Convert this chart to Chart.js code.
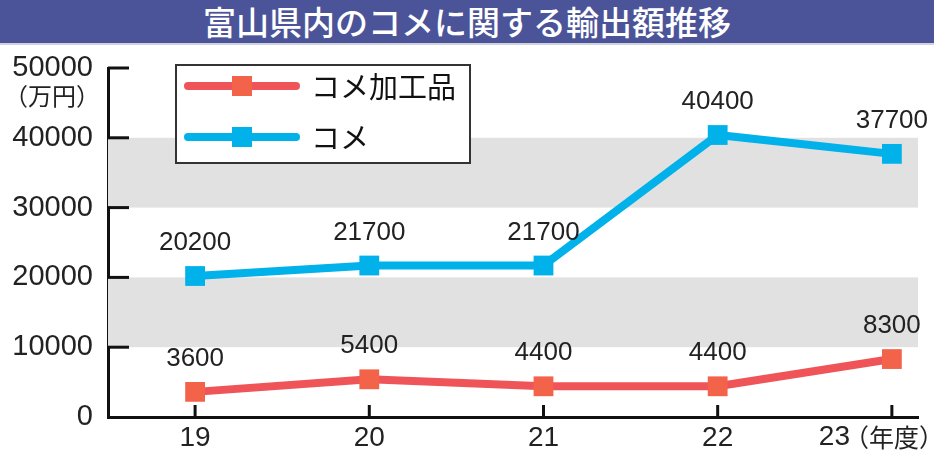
<!DOCTYPE html>
<html>
<head>
<meta charset="utf-8">
<script src="https://cdn.jsdelivr.net/npm/chart.js@4"></script>
<style>
  body { margin: 0; background: #fff; }
  #wrap { position: relative; width: 934px; height: 453px; overflow: hidden; }
  #title {
    position: absolute; left: 0; top: 0; width: 934px; height: 43px;
    background: #4b5499; color: #fff; text-align: center;
    font: 500 33px "Noto Sans CJK JP"; line-height: 43px;
    border-bottom: 2px solid #d0d2de;
  }
  canvas { position: absolute; left: 0; top: 0; }
</style>
</head>
<body>
<div id="wrap">
  <canvas id="chart" width="934" height="453"></canvas>
  <div id="title">富山県内のコメに関する輸出額推移</div>
</div>
<script>
const years = [19, 20, 21, 22, 23];
const rice = [20200, 21700, 21700, 40400, 37700];
const ricePro = [3600, 5400, 4400, 4400, 8300];
const yTicks = [0, 10000, 20000, 30000, 40000, 50000];
const bands = [[30000, 40000], [10000, 20000]];

const blue = '#00b1ea';
const red = '#ef5558';
const redMark = '#f2634a';
const num = '"Liberation Sans", Arial, sans-serif';
const jp = '"Noto Sans CJK JP", sans-serif';

const decor = {
  id: 'decor',
  beforeDatasetsDraw(chart) {
    const { ctx, chartArea: a, scales: { y } } = chart;
    ctx.save();
    ctx.fillStyle = '#e1e1e1';
    bands.forEach(b => {
      const t = y.getPixelForValue(b[1]), bt = y.getPixelForValue(b[0]);
      ctx.fillRect(a.left, t, a.right - a.left, bt - t);
    });
    ctx.restore();
  },
  afterDatasetsDraw(chart) {
    const { ctx, chartArea: a, scales: { x, y } } = chart;
    ctx.save();
    // inside tick marks
    ctx.strokeStyle = '#111';
    ctx.lineWidth = 3;
    yTicks.slice(1).forEach(v => {
      const py = y.getPixelForValue(v);
      ctx.beginPath(); ctx.moveTo(a.left, py); ctx.lineTo(a.left + 21, py); ctx.stroke();
    });
    years.forEach(v => {
      const px = x.getPixelForValue(v);
      ctx.beginPath(); ctx.moveTo(px, a.bottom); ctx.lineTo(px, a.bottom - 12); ctx.stroke();
    });
    // value labels
    ctx.fillStyle = '#222';
    ctx.font = '26px ' + num;
    ctx.textAlign = 'center';
    ctx.textBaseline = 'bottom';
    chart.data.datasets.forEach((ds, i) => {
      chart.getDatasetMeta(i).data.forEach((pt, j) => {
        ctx.fillText(ds.data[j].y, pt.x, pt.y - 20);
      });
    });
    // unit labels
    ctx.font = '24px ' + jp;
    ctx.textAlign = 'right';
    ctx.textBaseline = 'middle';
    ctx.fillText('（万円）', 100, 96);
    // last x label with unit
    const last = years[years.length - 1];
    ctx.font = '25px ' + jp;
    ctx.textAlign = 'right';
    const unit = '（年度）';
    ctx.fillText(unit, 944, a.bottom + 20);
    const uw = ctx.measureText(unit).width;
    ctx.font = '28px ' + num;
    ctx.fillText(String(last), 944 - uw + 6, a.bottom + 20);
    // legend
    ctx.fillStyle = '#fff';
    ctx.fillRect(176, 65, 294, 98);
    ctx.strokeStyle = '#333';
    ctx.lineWidth = 2;
    ctx.strokeRect(176, 65, 294, 98);
    const rows = [['コメ加工品', red, redMark, 86], ['コメ', blue, blue, 137]];
    rows.forEach(r => {
      ctx.strokeStyle = r[1];
      ctx.lineWidth = 8;
      ctx.lineCap = 'round';
      ctx.beginPath(); ctx.moveTo(188, r[3]); ctx.lineTo(296, r[3]); ctx.stroke();
      ctx.fillStyle = r[2];
      ctx.fillRect(232, r[3] - 10, 20, 20);
      ctx.fillStyle = '#111';
      ctx.font = '29px ' + jp;
      ctx.textAlign = 'left';
      ctx.fillText(r[0], 311, r[3] + 1);
    });
    ctx.restore();
  }
};

new Chart(document.getElementById('chart'), {
  type: 'line',
  data: {
    datasets: [
      {
        label: 'コメ加工品',
        data: years.map((yr, i) => ({ x: yr, y: ricePro[i] })),
        borderColor: red,
        backgroundColor: redMark,
        borderWidth: 8,
        pointStyle: 'rect',
        pointRadius: 14,
        pointBorderWidth: 0,
        pointBackgroundColor: redMark
      },
      {
        label: 'コメ',
        data: years.map((yr, i) => ({ x: yr, y: rice[i] })),
        borderColor: blue,
        backgroundColor: blue,
        borderWidth: 8,
        pointStyle: 'rect',
        pointRadius: 14,
        pointBorderWidth: 0,
        pointBackgroundColor: blue
      }
    ]
  },
  options: {
    responsive: false,
    animation: false,
    layout: { padding: { left: 0, top: 68, right: 16, bottom: 0 } },
    plugins: { legend: { display: false }, tooltip: { enabled: false } },
    scales: {
      x: {
        type: 'linear',
        min: 18.5,
        max: 23.15,
        afterBuildTicks(s) { s.ticks = years.map(v => ({ value: v })); },
        afterFit(s) { s.height = 36; },
        grid: { display: false, drawTicks: false },
        border: { color: '#111', width: 3 },
        ticks: {
          color: '#222', font: { family: num, size: 28 }, padding: 4,
          callback: v => v === years[years.length - 1] ? '' : String(v)
        }
      },
      y: {
        min: 0,
        max: 50000,
        afterBuildTicks(s) { s.ticks = yTicks.map(v => ({ value: v })); },
        afterFit(s) { s.width = 108; },
        grid: { display: false, drawTicks: false },
        border: { color: '#111', width: 3 },
        ticks: {
          color: '#222', font: { family: num, size: 29 }, padding: 15,
          callback: v => String(v)
        }
      }
    }
  },
  plugins: [decor]
});
</script>
</body>
</html>
